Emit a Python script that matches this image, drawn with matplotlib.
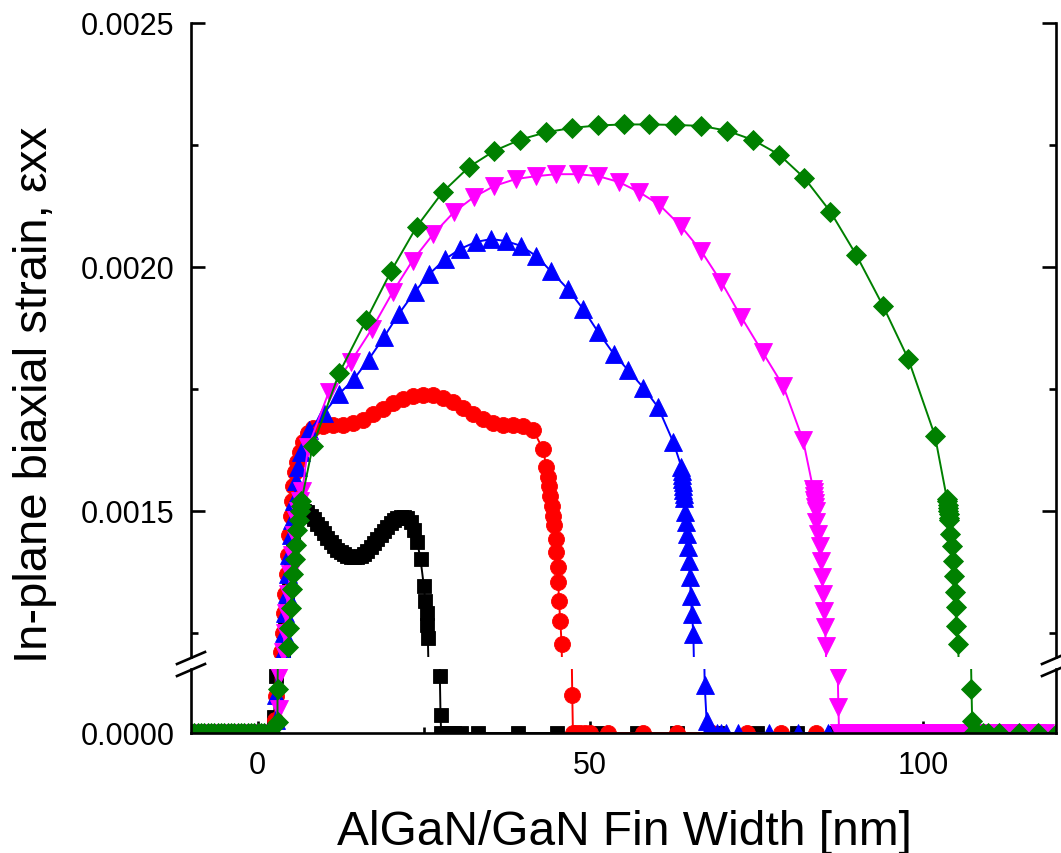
import matplotlib
matplotlib.use('Agg')
import matplotlib.pyplot as plt
from matplotlib.lines import Line2D

plt.rcParams['font.family'] = ['Liberation Sans', 'DejaVu Sans']

# ---------------- data ----------------
left_zero_x = [-10.0, -9.5, -9.0, -8.5, -8.0, -7.5, -7.0, -6.5, -6.0, -5.5, -5.0,
               -4.5, -4.0, -3.5, -3.0, -2.5, -2.0, -1.5, -1.0, -0.5, 0.0, 0.5,
               1.0, 1.5, 2.0]

black_x = [2.5, 2.7, 3.9, 4.2, 4.5, 4.8, 5.1, 5.4, 5.7, 6.0,
           6.5, 7.0, 7.5, 8.0, 8.5, 9.0, 9.5, 10.0, 10.5, 11.0, 11.5, 12.0, 12.5,
           13.0, 13.5, 14.0, 14.5, 15.0, 15.5, 16.0, 16.5, 17.0, 17.5, 18.0, 18.5,
           19.0, 19.5, 20.0, 20.5, 21.0, 21.5, 22.0, 22.5, 23.0, 23.5, 24.0, 24.5,
           25.0, 25.2, 25.4, 25.5, 25.6,
           27.4, 27.5,
           27.6, 28.6, 29.6, 30.6, 33.1, 39.1, 45.0, 51.0, 57.0, 63.0, 69.0, 75.0,
           81.0, 87.0, 93.0, 99.0, 105.0, 111.0, 117.0]
black_y = [2.5e-5, 8.9e-5, 1.21e-3, 1.26e-3, 1.31e-3, 1.36e-3, 1.40e-3, 1.44e-3, 1.47e-3, 1.49e-3,
           1.500e-3, 1.500e-3, 1.497e-3, 1.490e-3, 1.482e-3, 1.473e-3, 1.464e-3, 1.455e-3,
           1.445e-3, 1.435e-3, 1.427e-3, 1.420e-3, 1.415e-3, 1.411e-3, 1.408e-3, 1.406e-3,
           1.405e-3, 1.406e-3, 1.408e-3, 1.412e-3, 1.418e-3, 1.425e-3, 1.433e-3, 1.441e-3,
           1.450e-3, 1.459e-3, 1.467e-3, 1.474e-3, 1.480e-3, 1.484e-3, 1.487e-3, 1.487e-3,
           1.484e-3, 1.476e-3, 1.460e-3, 1.436e-3, 1.400e-3,
           1.345e-3, 1.315e-3, 1.290e-3, 1.266e-3, 1.238e-3,
           8.9e-5, 2.8e-5,
           0, 0, 0, 0, 0, 0, 0, 0, 0, 0, 0, 0, 0, 0, 0, 0, 0, 0, 0]

red_x = [2.6, 2.7, 3.6, 3.8, 4.0, 4.2, 4.4, 4.6, 4.8, 5.0, 5.2, 5.4, 5.7, 6.0, 6.4, 6.9,
         7.6, 8.4, 9.9, 11.4, 12.9, 14.4, 15.9, 17.4, 18.9, 20.4, 21.9, 23.4, 24.9, 26.4,
         27.9, 29.4, 30.9, 32.4, 33.9, 35.4, 36.9, 38.4, 39.9, 41.4, 42.9,
         43.4, 43.6, 43.8, 44.0, 44.2, 44.4, 44.6,
         44.8, 44.9, 45.1, 45.2, 45.3, 45.5, 45.7,
         47.3,
         47.4, 47.8, 48.4, 49.2, 50.0, 52.7, 57.9, 63.1, 68.3, 73.5, 78.7, 83.9, 89.1,
         94.3, 99.5, 104.7, 109.9, 115.1]
red_y = [2.0e-5, 5.8e-5, 1.21e-3, 1.25e-3, 1.29e-3, 1.33e-3, 1.37e-3, 1.41e-3, 1.45e-3,
         1.49e-3, 1.52e-3, 1.55e-3, 1.58e-3, 1.60e-3, 1.62e-3, 1.64e-3, 1.66e-3, 1.670e-3,
         1.674e-3, 1.675e-3, 1.676e-3, 1.679e-3, 1.686e-3, 1.698e-3, 1.709e-3, 1.720e-3,
         1.730e-3, 1.735e-3, 1.737e-3, 1.737e-3, 1.731e-3, 1.723e-3, 1.710e-3, 1.698e-3,
         1.688e-3, 1.680e-3, 1.676e-3, 1.675e-3, 1.674e-3, 1.666e-3, 1.626e-3,
         1.590e-3, 1.570e-3, 1.550e-3, 1.530e-3, 1.510e-3, 1.490e-3, 1.470e-3,
         1.442e-3, 1.415e-3, 1.385e-3, 1.354e-3, 1.315e-3, 1.274e-3, 1.227e-3,
         6.0e-5,
         0, 0, 0, 0, 0, 0, 0, 0, 0, 0, 0, 0, 0, 0, 0, 0, 0, 0]

blue_x = [2.7, 2.8, 3.8, 4.0, 4.2, 4.4, 4.6, 4.8, 5.0, 5.2, 5.5, 5.8, 6.1, 6.6, 7.8, 10.0,
          12.3, 14.5, 16.7, 19.0, 21.2, 23.6, 25.8, 28.2, 30.5, 32.8, 35.1, 37.3, 39.6,
          41.9, 44.1, 46.6, 48.9, 51.2, 53.5, 55.7, 58.0, 60.2, 62.5,
          63.7, 63.75, 63.8, 63.85, 63.9, 63.95, 64.0, 64.05, 64.1,
          64.2, 64.4, 64.5, 64.7, 64.8, 65.0, 65.1, 65.3, 65.5,
          67.2, 67.5,
          67.6, 68.3, 69.0, 69.7, 70.4, 72.2, 76.8, 81.3, 85.7, 90.1, 94.5, 98.9, 103.3,
          107.7, 112.1, 116.5]
blue_y = [2.0e-5, 6.0e-5, 1.21e-3, 1.25e-3, 1.29e-3, 1.33e-3, 1.37e-3, 1.41e-3, 1.45e-3,
          1.48e-3, 1.52e-3, 1.56e-3, 1.59e-3, 1.62e-3, 1.665e-3, 1.700e-3, 1.740e-3,
          1.770e-3, 1.810e-3, 1.856e-3, 1.903e-3, 1.948e-3, 1.985e-3, 2.016e-3, 2.037e-3,
          2.051e-3, 2.057e-3, 2.053e-3, 2.043e-3, 2.022e-3, 1.991e-3, 1.955e-3, 1.914e-3,
          1.866e-3, 1.822e-3, 1.788e-3, 1.752e-3, 1.712e-3, 1.640e-3,
          1.590e-3, 1.582e-3, 1.574e-3, 1.566e-3, 1.558e-3, 1.550e-3, 1.542e-3, 1.534e-3,
          1.526e-3,
          1.497e-3, 1.477e-3, 1.452e-3, 1.425e-3, 1.397e-3, 1.364e-3, 1.325e-3, 1.288e-3,
          1.247e-3,
          7.5e-5, 1.8e-5,
          0, 0, 0, 0, 0, 0, 0, 0, 0, 0, 0, 0, 0, 0, 0, 0]

magenta_x = [3.2, 3.2, 3.9, 4.1, 4.3, 4.6, 4.9, 5.2, 5.5, 5.8, 6.1, 6.4, 6.7, 7.6,
             10.7, 14.0, 17.2, 20.3, 23.3, 26.4, 29.5, 32.5, 35.6, 38.8, 41.9, 44.9,
             48.1, 51.2, 54.3, 57.4, 60.4, 63.6, 66.7, 69.7, 72.7, 75.9, 79.0, 82.0,
             83.5, 83.6, 83.65, 83.7, 83.8, 83.85, 83.95,
             84.0, 84.3, 84.5, 84.7, 84.8, 85.0, 85.2, 85.3, 85.4,
             87.2, 87.3,
             87.4, 88.5, 89.8, 91.1, 92.4, 93.7, 95.0, 96.3, 97.6, 98.9, 100.2, 101.5,
             102.8, 104.1, 105.4, 106.7, 108.0, 109.3, 110.6, 111.9, 113.2, 114.5, 115.8,
             117.1, 118.4]
magenta_y = [3.7e-5, 8.9e-5, 1.21e-3, 1.25e-3, 1.29e-3, 1.33e-3, 1.37e-3, 1.41e-3,
             1.45e-3, 1.48e-3, 1.50e-3, 1.52e-3, 1.54e-3, 1.630e-3,
             1.743e-3, 1.805e-3, 1.873e-3, 1.948e-3, 2.013e-3, 2.067e-3, 2.112e-3,
             2.143e-3, 2.166e-3, 2.180e-3, 2.186e-3, 2.190e-3, 2.190e-3, 2.186e-3,
             2.174e-3, 2.153e-3, 2.127e-3, 2.084e-3, 2.032e-3, 1.969e-3, 1.897e-3,
             1.825e-3, 1.756e-3, 1.644e-3,
             1.545e-3, 1.538e-3, 1.530e-3, 1.522e-3, 1.515e-3, 1.508e-3, 1.500e-3,
             1.477e-3, 1.452e-3, 1.428e-3, 1.397e-3, 1.364e-3, 1.330e-3, 1.294e-3,
             1.261e-3, 1.223e-3,
             8.9e-5, 4.0e-5,
             0, 0, 0, 0, 0, 0, 0, 0, 0, 0, 0, 0, 0, 0, 0, 0, 0, 0, 0, 0, 0, 0, 0, 0, 0]

green_x = [3.0, 3.0, 4.6, 4.8, 5.0, 5.2, 5.4, 5.6, 5.8, 6.0, 6.2, 6.4, 6.5, 6.6,
           8.3, 12.3, 16.3, 20.1, 23.9, 27.8, 31.8, 35.6, 39.5, 43.4, 47.3, 51.2, 55.1,
           58.9, 62.8, 66.7, 70.6, 74.5, 78.4, 82.2, 86.1, 90.0, 94.0, 97.8, 101.8,
           103.6, 103.65, 103.7, 103.75, 103.8, 103.85, 103.9, 103.95,
           104.1, 104.4, 104.5, 104.6, 104.8, 104.9, 105.0, 105.3,
           107.3, 107.4,
           107.5, 108.2, 109.0, 109.8, 111.4, 114.4, 117.3, 120.2]
green_y = [1.7e-5, 6.9e-5, 1.22e-3, 1.26e-3, 1.30e-3, 1.34e-3, 1.37e-3, 1.40e-3, 1.43e-3,
           1.46e-3, 1.48e-3, 1.50e-3, 1.51e-3, 1.52e-3,
           1.633e-3, 1.783e-3, 1.890e-3, 1.992e-3, 2.082e-3, 2.153e-3, 2.205e-3, 2.238e-3,
           2.261e-3, 2.276e-3, 2.285e-3, 2.290e-3, 2.292e-3, 2.292e-3, 2.291e-3, 2.289e-3,
           2.279e-3, 2.260e-3, 2.230e-3, 2.182e-3, 2.113e-3, 2.024e-3, 1.920e-3, 1.811e-3,
           1.654e-3,
           1.525e-3, 1.519e-3, 1.512e-3, 1.506e-3, 1.499e-3, 1.493e-3, 1.486e-3, 1.480e-3,
           1.452e-3, 1.428e-3, 1.397e-3, 1.366e-3, 1.334e-3, 1.302e-3, 1.264e-3, 1.227e-3,
           6.9e-5, 1.9e-5,
           0, 0, 0, 0, 0, 0, 0, 0]

x_ticks_major = [0, 50, 100]
x_tick_labels = ['0', '50', '100']
x_ticks_minor = [25, 75]
y_ticks_upper = [0.0015, 0.0020, 0.0025]
y_tick_labels_upper = ['0.0015', '0.0020', '0.0025']
y_ticks_upper_minor = [0.00125, 0.00175, 0.00225]
y_ticks_lower = [0.0]
y_tick_labels_lower = ['0.0000']

series = [
    (black_x, black_y, 'black', 's', 10.5),
    (red_x, red_y, '#ff0000', 'o', 11.5),
    (blue_x, blue_y, '#0000ff', '^', 13.0),
    (magenta_x, magenta_y, '#ff00ff', 'v', 13.0),
    (green_x, green_y, '#008000', 'D', 10.5),
]

# ---------------- figure ----------------
W, H = 1061, 854
fig = plt.figure(figsize=(W / 100, H / 100), dpi=100)


def fx(px):
    return px / W


def fy(py):
    return 1 - py / H


AX_L, AX_R = 191, 1056
ax_top = fig.add_axes([fx(AX_L), fy(658), fx(AX_R) - fx(AX_L), fy(24) - fy(658)])
ax_bot = fig.add_axes([fx(AX_L), fy(734), fx(AX_R) - fx(AX_L), fy(670) - fy(734)])

for ax in (ax_top, ax_bot):
    for xs, ys, c, m, ms in series:
        ax.plot(left_zero_x + xs, [0.0] * len(left_zero_x) + ys, color=c, marker=m,
                markersize=ms, markeredgecolor=c, markeredgewidth=0.6, linewidth=1.4)
    ax.set_xlim(-10, 120)
    for sp in ax.spines.values():
        sp.set_linewidth(1.9)

ax_top.set_ylim(0.0012, 0.0025)
ax_bot.set_ylim(0.0, 1.0e-4)

ax_top.spines['bottom'].set_visible(False)
ax_top.spines['top'].set_visible(False)
ax_bot.spines['top'].set_visible(False)

# upper axis ticks
ax_top.set_xticks([])
ax_top.set_yticks(y_ticks_upper)
ax_top.set_yticklabels(y_tick_labels_upper)
ax_top.set_yticks(y_ticks_upper_minor, minor=True)
ax_top.tick_params(axis='y', which='both', direction='in', left=True, right=True,
                   labelsize=22, pad=12, width=1.9)
ax_top.tick_params(axis='y', which='major', length=10)
ax_top.tick_params(axis='y', which='minor', length=5)
ax_top.tick_params(axis='x', which='both', bottom=False, top=False, labelbottom=False)

# lower axis ticks
ax_bot.set_xticks(x_ticks_major)
ax_bot.set_xticklabels(x_tick_labels)
ax_bot.set_xticks(x_ticks_minor, minor=True)
ax_bot.tick_params(axis='x', which='both', direction='in', bottom=True, top=False,
                   labelsize=22, pad=12, width=1.9)
ax_bot.tick_params(axis='x', which='major', length=9)
ax_bot.tick_params(axis='x', which='minor', length=4.5)
ax_bot.set_yticks(y_ticks_lower)
ax_bot.set_yticklabels(y_tick_labels_lower)
ax_bot.tick_params(axis='y', which='both', length=0, labelsize=22, pad=12, right=False)

# break marks
for xc in (AX_L, AX_R):
    for yc in (659, 671):
        fig.add_artist(Line2D([fx(xc - 14), fx(xc + 14)], [fy(yc + 6), fy(yc - 6)],
                              transform=fig.transFigure, color='black', linewidth=1.9,
                              clip_on=False))

# axis labels
fig.text(fx(624), fy(845), 'AlGaN/GaN Fin Width [nm]', ha='center', va='baseline',
         fontsize=34.5)
t1 = fig.text(fx(47), fy(663), 'In-plane biaxial strain, ', rotation=90,
              rotation_mode='anchor', ha='left', va='baseline', fontsize=34)
fig.canvas.draw()
bb = t1.get_window_extent()
fig.text(fx(45), bb.y1 / H, 'εxx', rotation=90, rotation_mode='anchor',
         ha='left', va='baseline', fontsize=33)

fig.savefig('out.png', dpi=100)
